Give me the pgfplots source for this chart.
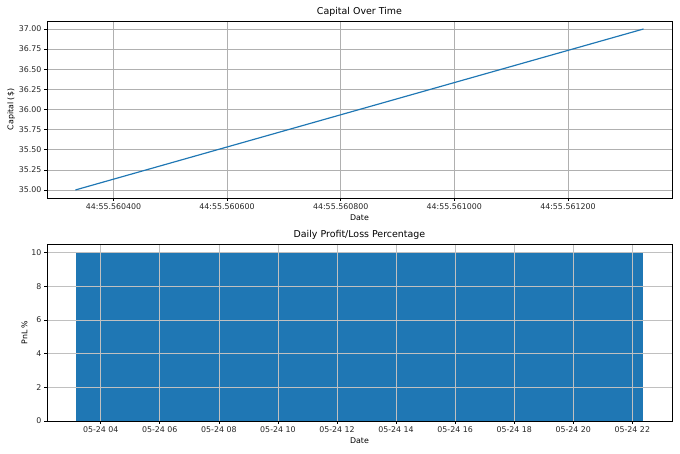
\documentclass[border=0pt]{standalone}
\usepackage{fontspec}
\setmainfont{DejaVu Sans}
\usepackage{pgfplots}
\pgfplotsset{compat=1.18}
\definecolor{mplblue}{HTML}{1F77B4}
\definecolor{gridgray}{HTML}{B0B0B0}
\pgfplotsset{
  mpl/.style={
    scale only axis, width=794pt, height=225pt,
    anchor=south west,
    axis line style={black, line width=0.8pt},
    grid=major,
    major grid style={gridgray, line width=0.8pt},
    tick style={black, line width=0.8pt},
    major tick length=3.5pt,
    tick align=outside,
    xtick pos=bottom, ytick pos=left,
    tick label style={font=\fontsize{10}{12}\selectfont, text=black!85},
    label style={font=\fontsize{10}{12}\selectfont},
    title style={font=\fontsize{12}{14}\selectfont, yshift=-4pt},
    /pgf/number format/assume math mode=true,
  }
}
\begin{document}
\begin{tikzpicture}
\path (0,0) rectangle (864pt,576pt);
\begin{axis}[mpl, at={(59.7pt,324.4pt)},
  title={Capital Over Time},
  xlabel={Date}, ylabel={Capital (\$)},
  xmin=283, xmax=1383, ymin=34.9, ymax=37.1,
  xtick={400,600,800,1000,1200},
  xticklabels={44:55.560400,44:55.560600,44:55.560800,44:55.561000,44:55.561200},
  ytick={35,35.25,35.5,35.75,36,36.25,36.5,36.75,37},
  yticklabel style={/pgf/number format/.cd, fixed, fixed zerofill, precision=2},
  ylabel style={yshift=-2pt},
]
\addplot[mplblue, line width=1.5pt, no markers] coordinates {(333,35) (1333,37)};
\end{axis}
\begin{axis}[mpl, at={(59.7pt,41pt)},
  title={Daily Profit/Loss Percentage},
  xlabel={Date}, ylabel={PnL \%},
  xmin=2.18, xmax=23.34, ymin=0, ymax=10.5,
  xtick={4,6,8,10,12,14,16,18,20,22},
  xticklabels={05-24 04,05-24 06,05-24 08,05-24 10,05-24 12,05-24 14,05-24 16,05-24 18,05-24 20,05-24 22},
  ytick={0,2,4,6,8,10},
  axis on top,
  major grid style={gridgray!80!white, line width=0.8pt},
  ylabel style={yshift=-2pt},
]
\addplot[ybar, bar width=19.2, bar shift=0pt, fill=mplblue, draw=none] coordinates {(12.76,10)};
\end{axis}
\end{tikzpicture}
\end{document}
